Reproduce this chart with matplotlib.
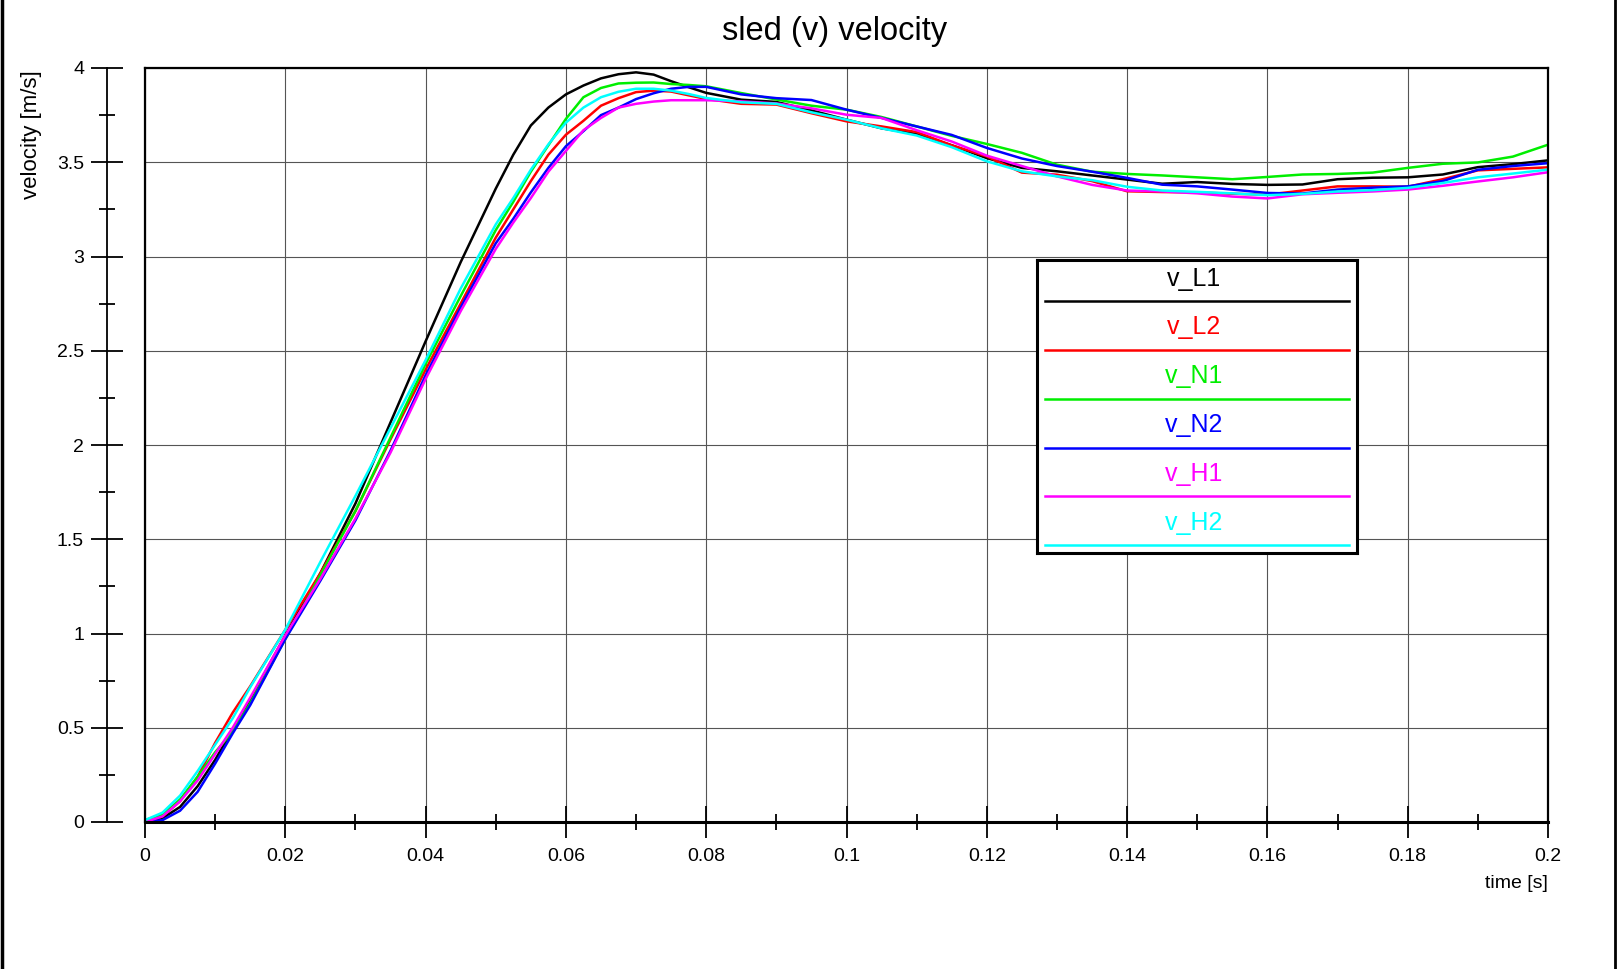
import matplotlib
matplotlib.use('Agg')
import matplotlib.pyplot as plt
from matplotlib.ticker import MultipleLocator, FuncFormatter
from matplotlib.lines import Line2D

plt.rcParams['font.family'] = ['Liberation Sans', 'DejaVu Sans']

# time axis [s]
time = [0, 0.0025, 0.005, 0.0075, 0.01, 0.0125, 0.015,
        0.02, 0.025, 0.03, 0.035, 0.04, 0.045,
        0.05, 0.0525, 0.055, 0.0575, 0.06, 0.0625, 0.065, 0.0675,
        0.07, 0.0725, 0.075, 0.0775, 0.08,
        0.085, 0.09, 0.095, 0.1, 0.105, 0.11, 0.115,
        0.12, 0.125, 0.13, 0.135, 0.14, 0.145, 0.15, 0.155, 0.16, 0.165,
        0.17, 0.175, 0.18, 0.185, 0.19, 0.195, 0.2]

# velocities [m/s]
v_L1 = [0, 0.02, 0.08, 0.19, 0.33, 0.49, 0.65,
        0.99, 1.32, 1.69, 2.12, 2.55, 2.97,
        3.36, 3.54, 3.695, 3.79, 3.86, 3.907, 3.945, 3.967,
        3.977, 3.965, 3.93, 3.898, 3.868,
        3.832, 3.82, 3.775, 3.726, 3.68, 3.65, 3.59,
        3.522, 3.47, 3.452, 3.43, 3.408, 3.386, 3.395, 3.385, 3.38, 3.382,
        3.41, 3.418, 3.42, 3.435, 3.474, 3.49, 3.51]
v_L2 = [0, 0.03, 0.11, 0.24, 0.42, 0.58, 0.72,
        1.02, 1.32, 1.65, 2.03, 2.40, 2.75,
        3.10, 3.25, 3.40, 3.54, 3.646, 3.72, 3.80, 3.84,
        3.872, 3.88, 3.875, 3.855, 3.836,
        3.81, 3.806, 3.76, 3.717, 3.69, 3.66, 3.59,
        3.531, 3.445, 3.434, 3.40, 3.346, 3.342, 3.34, 3.333, 3.328, 3.35,
        3.372, 3.372, 3.37, 3.41, 3.457, 3.465, 3.473]
v_N1 = [0.01, 0.04, 0.12, 0.24, 0.37, 0.48, 0.63,
        0.97, 1.31, 1.65, 2.04, 2.43, 2.79,
        3.14, 3.29, 3.45, 3.59, 3.73, 3.845, 3.894, 3.918,
        3.922, 3.923, 3.915, 3.91, 3.903,
        3.867, 3.833, 3.80, 3.779, 3.74, 3.69, 3.64,
        3.597, 3.55, 3.487, 3.45, 3.438, 3.43, 3.42, 3.41, 3.422, 3.435,
        3.438, 3.445, 3.47, 3.492, 3.499, 3.53, 3.593]
v_N2 = [0, 0.01, 0.06, 0.16, 0.31, 0.47, 0.62,
        0.97, 1.28, 1.60, 1.97, 2.37, 2.73,
        3.07, 3.20, 3.34, 3.47, 3.585, 3.665, 3.75, 3.79,
        3.835, 3.866, 3.89, 3.90, 3.90,
        3.86, 3.84, 3.83, 3.779, 3.735, 3.69, 3.645,
        3.576, 3.52, 3.48, 3.45, 3.417, 3.381, 3.372, 3.355, 3.337, 3.334,
        3.355, 3.365, 3.372, 3.40, 3.46, 3.48, 3.495]
v_H1 = [0, 0.03, 0.11, 0.22, 0.36, 0.50, 0.66,
        0.99, 1.29, 1.61, 1.96, 2.35, 2.71,
        3.04, 3.18, 3.31, 3.45, 3.56, 3.67, 3.735, 3.79,
        3.81, 3.822, 3.829, 3.829, 3.829,
        3.823, 3.812, 3.786, 3.752, 3.735, 3.67, 3.61,
        3.535, 3.48, 3.425, 3.38, 3.35, 3.345, 3.335, 3.318, 3.308, 3.33,
        3.338, 3.345, 3.355, 3.375, 3.398, 3.42, 3.447]
v_H2 = [0.01, 0.05, 0.14, 0.27, 0.41, 0.55, 0.715,
        1.02, 1.38, 1.73, 2.09, 2.45, 2.83,
        3.17, 3.31, 3.46, 3.595, 3.71, 3.79, 3.845, 3.874,
        3.89, 3.89, 3.88, 3.862, 3.841,
        3.818, 3.81, 3.765, 3.726, 3.68, 3.642, 3.58,
        3.505, 3.452, 3.425, 3.405, 3.37, 3.35, 3.343, 3.335, 3.325, 3.332,
        3.345, 3.352, 3.364, 3.39, 3.42, 3.44, 3.461]

names = ['v_L1', 'v_L2', 'v_N1', 'v_N2', 'v_H1', 'v_H2']
series = [v_L1, v_L2, v_N1, v_N2, v_H1, v_H2]
colors = ['#000000', '#ff0000', '#00ee00', '#0000ff', '#ff00ff', '#00ffff']

W, H = 1618, 969
fig = plt.figure(figsize=(W / 100, H / 100), dpi=100)
ax = fig.add_axes([145 / W, 1 - 822 / H, 1403 / W, 754 / H])

for vals, c in zip(series, colors):
    ax.plot(time, vals, color=c, lw=1.8, solid_joinstyle='round')

ax.set_xlim(0, 0.2)
ax.set_ylim(0, 4)
ax.xaxis.set_major_locator(MultipleLocator(0.02))
ax.xaxis.set_minor_locator(MultipleLocator(0.01))
ax.yaxis.set_major_locator(MultipleLocator(0.5))
ax.yaxis.set_minor_locator(MultipleLocator(0.25))
fmt = FuncFormatter(lambda v, p: '%g' % round(v, 4))
ax.xaxis.set_major_formatter(fmt)
ax.yaxis.set_major_formatter(fmt)

ax.grid(which='major', color='#555555', lw=0.8)
ax.set_axisbelow(True)

# y axis drawn detached to the left, frame line at x=0
ax.spines['left'].set_position(('outward', 27.4))
ax.spines['left'].set_linewidth(1.3)
ax.spines['bottom'].set_linewidth(2.2)
ax.spines['top'].set_linewidth(1.6)
ax.spines['right'].set_linewidth(1.6)
ax.axvline(0, color='k', lw=1.6, clip_on=False)

ax.tick_params(which='major', direction='inout', length=23, width=1.3,
               labelsize=14, colors='black')
ax.tick_params(which='minor', direction='inout', length=12, width=1.3)
ax.tick_params(axis='y', pad=5.0)
ax.tick_params(axis='x', pad=7)

fig.text(835 / W, 1 - 40 / H, 'sled (v) velocity', ha='center', va='baseline',
         fontsize=23.5)
fig.text(32 / W, 1 - 135 / H, 'velocity [m/s]', rotation=90, ha='center',
         va='center', fontsize=16)
fig.text(1548 / W, 1 - 883 / H, 'time [s]', ha='right', va='center',
         fontsize=14)

# legend: label centred above a coloured line, one row per series
lx0, lx1, ly0, ly1 = 1037, 1357, 260, 553
lg = fig.add_axes([lx0 / W, 1 - ly1 / H, (lx1 - lx0) / W, (ly1 - ly0) / H])
lg.set_xlim(0, 1)
lg.set_ylim(len(names), 0)
lg.set_xticks([])
lg.set_yticks([])
for s in lg.spines.values():
    s.set_linewidth(2.2)
for i, (n, c) in enumerate(zip(names, colors)):
    lg.text(0.49, i + 0.38, n, color=c, ha='center', va='center', fontsize=18)
    lg.plot([0.025, 0.975], [i + 0.84, i + 0.84], color=c, lw=1.8)

# dark border strips at the image edges
fig.add_artist(Line2D([1.5 / W, 1.5 / W], [0, 1], color='k', lw=2.5,
                      transform=fig.transFigure))
fig.add_artist(Line2D([1615 / W, 1615 / W], [0, 1], color='k', lw=2.0,
                      transform=fig.transFigure))

fig.savefig('out.png', dpi=100)
